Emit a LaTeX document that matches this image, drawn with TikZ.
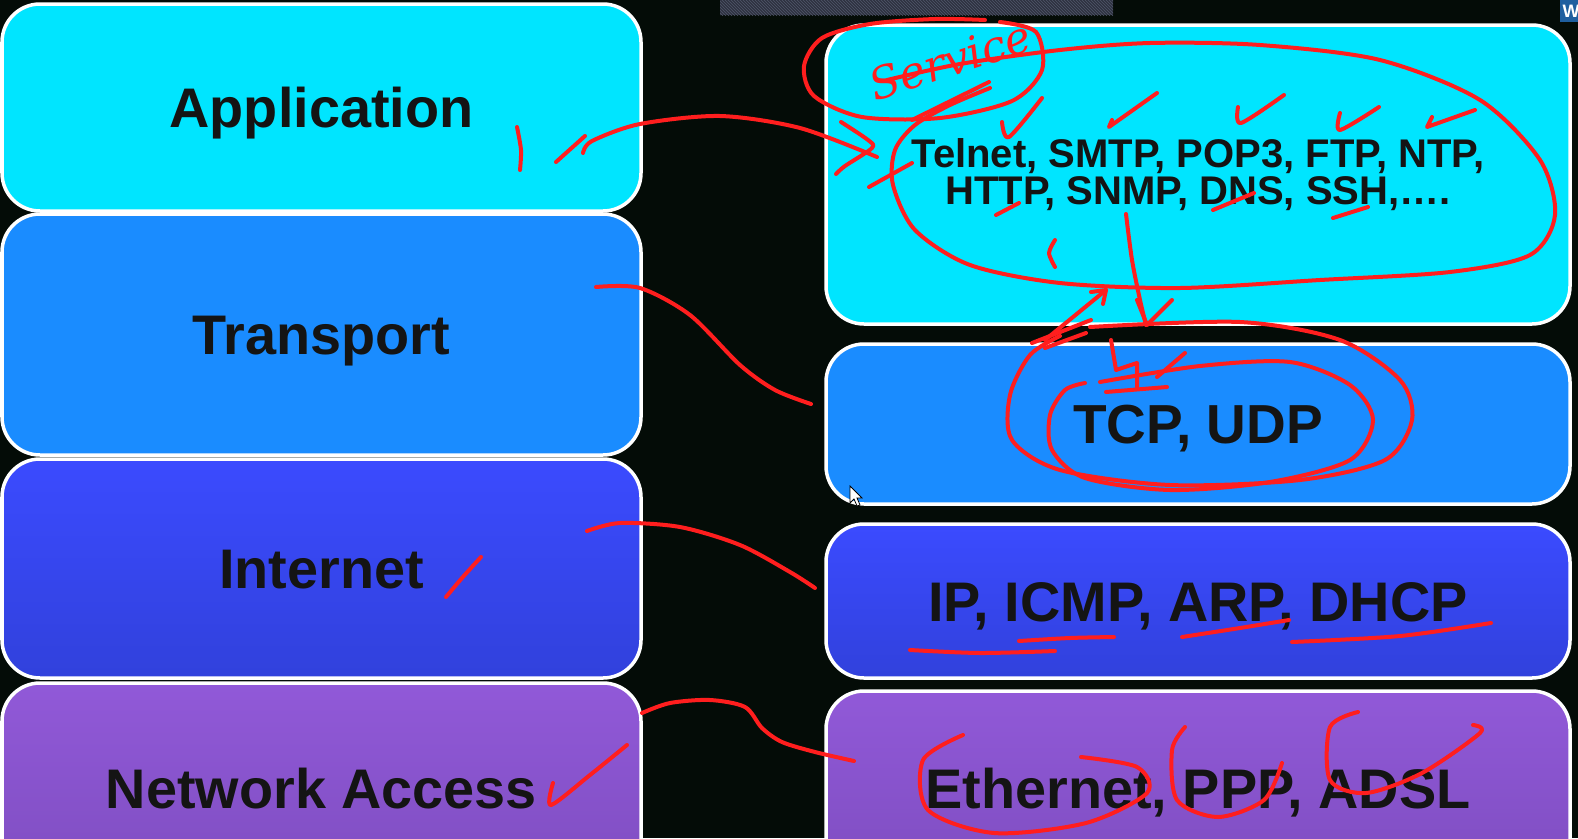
\documentclass[tikz,border=0pt]{standalone}
\usepackage{fontspec}
\setmainfont{Liberation Sans}
\newfontfamily\handfont{DejaVu Serif}
\usetikzlibrary{patterns}

\definecolor{bg}{HTML}{040C07}
\definecolor{appC}{HTML}{00E5FF}
\definecolor{trpC}{HTML}{1A8CFF}
\definecolor{netTop}{HTML}{3B4BFF}
\definecolor{netBot}{HTML}{3141DC}
\definecolor{accTop}{HTML}{9159D8}
\definecolor{accBot}{HTML}{7E4DC0}
\definecolor{inkC}{HTML}{FF1E1E}
\definecolor{txtC}{HTML}{141414}
\definecolor{barC}{HTML}{2E3240}
\definecolor{stripeC}{HTML}{50566A}
\definecolor{wboxC}{HTML}{1F5F9F}

\begin{document}
\begin{tikzpicture}[x=1pt, y=-1pt,
        layer/.style={draw=white, line width=3.5pt, rounded corners=38pt,
            inner sep=0pt, text=txtC, text height=40pt, text depth=0pt,
            font=\bfseries\fontsize{55.8}{60}\selectfont},
        leftcol/.style={layer, minimum width=639pt},
        rightcol/.style={layer, minimum width=744pt},
        pen/.style={draw=inkC, line width=4pt, line cap=round, line join=round}
        ]
            \clip (0,0) rectangle (1578,838);
            \fill[bg] (0,0) rectangle (1578,838);

            % Leiste oben
            \fill[barC] (720,0) rectangle (1113,15);
            \fill[pattern=north west lines, pattern color=stripeC] (720,0) rectangle (1113,15);
            \fill[wboxC] (1560,0) rectangle (1578,22);
            \node[text=white, font=\bfseries\fontsize{18}{18}\selectfont] (wlogo) at (1571,11) {W};

            % Schichten links
            \node[leftcol, fill=appC, minimum height=207pt] (appL) at (321.5,107.5) {Application};
            \node[leftcol, fill=trpC, minimum height=241pt] (trpL) at (321.5,334.5) {Transport};
            \node[leftcol, top color=netTop, bottom color=netBot, minimum height=219pt] (netL) at (321.5,568.5) {Internet};
            \node[leftcol, top color=accTop, bottom color=accBot, minimum height=210pt] (accL) at (321.5,788) {Network Access};

            % Protokolle rechts
            \node[rightcol, fill=appC, minimum height=299pt] (appR) at (1198,174.5) {};
            \node[text=txtC, align=center, font=\bfseries\fontsize{40}{37}\selectfont] (appTxt) at (1198,175)
                {Telnet, SMTP, POP3, FTP, NTP,\\HTTP, SNMP, DNS, SSH,….};
            \node[rightcol, fill=trpC, minimum height=160pt, font=\bfseries\fontsize{55}{60}\selectfont, text height=39pt] (trpR) at (1198,424) {TCP, UDP};
            \node[rightcol, top color=netTop, bottom color=netBot, minimum height=154pt] (netR) at (1198,601) {IP, ICMP, ARP, DHCP};
            \node[rightcol, top color=accTop, bottom color=accBot, minimum height=194pt] (accR) at (1198,788) {Ethernet, PPP, ADSL};

            % Mauszeiger
            \draw[fill=white, draw=black, line width=0.8pt] (850,486) -- (850,503) -- (854,499) -- (857,506)
                -- (860,505) -- (857,498) -- (862,498) -- cycle;

            % Anmerkungen: Application
            \draw[pen] plot[smooth] coordinates {(517,127) (521,150) (520,170)};
            \draw[pen] (556,162) -- (585,136);
            \draw[pen] plot[smooth] coordinates {(583,153) (592,141) (640,124) (720,116) (800,128) (877,157)};
            \draw[pen] plot[smooth] coordinates {(841,122) (868,140) (872,148) (845,166) (836,174)};
            \node[text=inkC, rotate=18, font=\handfont\itshape\fontsize{44}{44}\selectfont] (svc) at (950,60) {Service};
            \draw[pen] plot[smooth] coordinates {(1000,22) (1036,32) (1042,70) (1012,101) (940,118) (862,117)
                (814,96) (804,66) (822,38) (870,24) (935,19) (985,20)};
            \draw[pen] plot[smooth] coordinates {(887,80) (960,64) (1060,50) (1150,43) (1260,45) (1380,60)
                (1480,100) (1540,160) (1555,215) (1530,255) (1450,272) (1320,280) (1180,288) (1060,283)
                (970,265) (915,230) (893,185) (895,150) (915,125) (950,105) (990,88)};
            \draw[pen] (989,82) -- (912,120);
            \draw[pen] (869,187) -- (912,163);
            \draw[pen] plot[smooth] coordinates {(1002,122) (1009,137) (1042,98)};
            \draw[pen] (1112,120) -- (1109,127) -- (1157,93);
            \draw[pen] plot[smooth] coordinates {(1238,107) (1241,123) (1284,95)};
            \draw[pen] plot[smooth] coordinates {(1340,113) (1340,130) (1379,107)};
            \draw[pen] (1432,117) -- (1427,127) -- (1475,110);
            \draw[pen] (996,215) -- (1019,203);
            \draw[pen] (1213,210) -- (1254,193);
            \draw[pen] (1333,218) -- (1368,207);
            \draw[pen] plot[smooth] coordinates {(1055,240) (1049,253) (1055,267)};

            % Anmerkungen: Transport
            \draw[pen] plot[smooth] coordinates {(596,287) (640,288) (690,315) (740,365) (775,390) (811,404)};
            \draw[pen] plot[smooth] coordinates {(1126,214) (1132,260) (1140,300) (1146,325)};
            \draw[pen] (1137,300) -- (1147,325) -- (1172,300);
            \draw[pen] (1045,340) -- (1106,290);
            \draw[pen] (1091,292) -- (1106,290) -- (1103,304);
            \draw[pen] (1032,343) -- (1091,320);
            \draw[pen] (1045,348) -- (1086,333);
            \draw[pen] (1111,340) -- (1116,370) -- (1137,363) -- (1137,387);
            \draw[pen] (1106,392) -- (1167,387);
            \draw[pen] (1185,353) -- (1157,377);
            \draw[pen] plot[smooth] coordinates {(1090,327) (1240,322) (1340,340) (1400,380) (1412,420)
                (1385,460) (1300,480) (1170,485) (1060,470) (1012,440) (1010,395) (1030,355) (1060,336)};
            \draw[pen] plot[smooth] coordinates {(1100,382) (1200,366) (1290,362) (1350,385) (1373,420)
                (1350,460) (1270,482) (1170,490) (1085,478) (1052,450) (1050,415) (1065,390) (1085,383)};

            % Anmerkungen: Internet
            \draw[pen] plot[smooth] coordinates {(446,597) (462,578) (481,557)};
            \draw[pen] plot[smooth] coordinates {(587,531) (620,523) (680,527) (740,545) (790,572) (815,588)};
            \draw[pen] plot[smooth] coordinates {(910,650) (980,653) (1055,651)};
            \draw[pen] plot[smooth] coordinates {(1019,641) (1070,638) (1114,637)};
            \draw[pen] plot[smooth] coordinates {(1182,637) (1240,628) (1289,620)};
            \draw[pen] plot[smooth] coordinates {(1292,642) (1400,636) (1491,623)};

            % Anmerkungen: Network Access
            \draw[pen] plot[smooth] coordinates {(553,783) (551,805) (590,775) (627,745)};
            \draw[pen] plot[smooth] coordinates {(642,713) (670,703) (710,700) (745,707) (762,728)
                (782,742) (815,752) (854,761)};
            \draw[pen] plot[smooth] coordinates {(963,735) (923,760) (928,810) (994,833) (1086,823)
                (1147,793) (1137,767) (1081,757)};
            \draw[pen] plot[smooth] coordinates {(1185,727) (1172,750) (1177,800) (1218,817) (1264,800) (1282,763)};
            \draw[pen] plot[smooth] coordinates {(1358,712) (1330,727) (1330,780) (1366,793) (1422,773)
                (1480,733) (1473,725)};
        \end{tikzpicture}
\end{document}
